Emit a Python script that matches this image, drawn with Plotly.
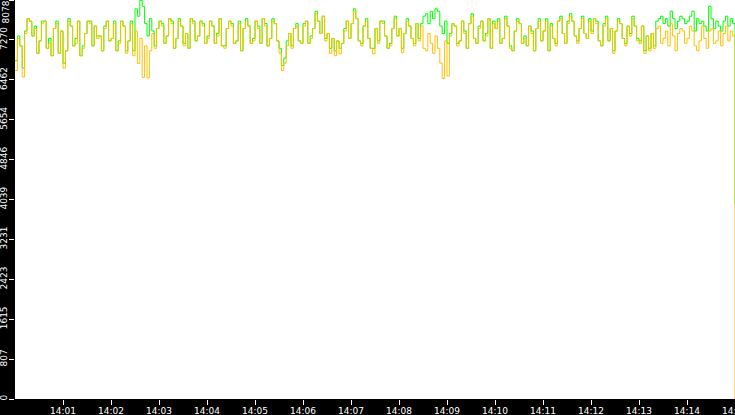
import plotly.graph_objects as go
import pandas as pd

# samples every 3 seconds from 14:00:00 to 14:15:00
times = pd.date_range("2024-01-01 14:00:00", "2024-01-01 14:15:00", freq="3s")

# yellow series, one row per minute
yellow = [
    6650, 7300, 7150, 6520, 7400, 7700, 7650, 7350, 7500, 7000, 7250, 7600, 7650, 7100, 7200, 6950, 7500, 7600, 7000, 7450,
    6700, 7050, 7650, 7550, 7150, 7200, 7650, 6950, 7100, 7400, 7650, 7600, 7150, 7550, 7300, 7350, 7050, 7500, 7650, 7250,
    7300, 7600, 7050, 7200, 7650, 7550, 7000, 7250, 7600, 6950, 7450, 6790, 7300, 6510, 7150, 6500, 7050, 7400, 7100, 7500,
    7650, 7550, 7200, 7350, 7700, 7600, 7100, 7300, 7650, 7550, 7150, 7400, 7100, 7700, 7600, 7250, 7350, 7650, 7550, 7200,
    7300, 7650, 7550, 7200, 7350, 7700, 7150, 7100, 7500, 7650, 7550, 7200, 7250, 7600, 7050, 7500, 7650, 7550, 7200, 7250,
    7650, 7500, 7200, 7700, 7550, 7150, 7300, 7650, 7600, 7250, 7000, 6650, 6800, 7150, 7400, 7100, 7500, 7550, 7250, 7200,
    7550, 7650, 7200, 7300, 7500, 7800, 7650, 7400, 7750, 7250, 7400, 7000, 7300, 6950, 7250, 6990, 7200, 7450, 7650, 7300,
    7600, 7850, 7700, 7250, 7150, 7550, 7650, 7300, 7100, 6990, 7500, 7200, 7650, 7600, 7350, 7100, 7150, 7500, 7700, 7350,
    7500, 7010, 7400, 7650, 7550, 7300, 7150, 7600, 7250, 7550, 7100, 7050, 7400, 7200, 7000, 7350, 7100, 6800, 6490, 7250,
    6540, 7350, 7600, 7550, 7150, 7250, 7650, 7400, 7100, 7600, 7750, 7300, 7200, 7500, 7650, 7250, 7350, 7700, 7100, 7600,
    7500, 7650, 7200, 7300, 7700, 7550, 7100, 7050, 7450, 7650, 7600, 7200, 7300, 7150, 7550, 7400, 7050, 7500, 7650, 7250,
    7450, 7650, 7050, 7550, 7300, 7150, 7650, 7700, 7400, 7200, 7600, 7750, 7650, 7350, 7200, 7500, 7700, 7400, 7300, 7650,
    7400, 7700, 7600, 7250, 7150, 7550, 7700, 7250, 7500, 7000, 7450, 7650, 7600, 7300, 7150, 7550, 7350, 7700, 7550, 7250,
    7200, 7550, 7000, 7350, 7050, 7400, 7100, 7500, 7550, 7200, 7300, 7450, 7150, 7600, 7350, 7050, 7400, 7500, 7450, 7200,
    7300, 7550, 7450, 7150, 7050, 7250, 7550, 7300, 7100, 7450, 7500, 7200, 7250, 7450, 7150, 7400, 7550, 7250, 7450, 7350,
    0,
]

# green series
green = [
    6850, 7350, 7150, 6700, 7450, 7700, 7650, 7350, 7550, 7000, 7250, 7650, 7650, 7100, 7300, 6950, 7500, 7650, 7000, 7450,
    6800, 7050, 7700, 7550, 7150, 7300, 7650, 6950, 7150, 7400, 7650, 7650, 7150, 7550, 7350, 7350, 7050, 7550, 7650, 7250,
    7300, 7650, 7050, 7250, 7650, 7550, 7050, 7250, 7650, 7050, 7900, 7750, 8070, 7950, 7600, 7350, 7700, 7450, 7150, 7500,
    7650, 7600, 7200, 7350, 7700, 7650, 7100, 7300, 7700, 7550, 7200, 7400, 7100, 7700, 7650, 7250, 7350, 7650, 7600, 7200,
    7350, 7650, 7550, 7200, 7400, 7700, 7150, 7150, 7500, 7650, 7600, 7200, 7250, 7650, 7050, 7500, 7700, 7550, 7200, 7300,
    7650, 7550, 7200, 7700, 7600, 7150, 7300, 7700, 7600, 7250, 7100, 6750, 6900, 7250, 7400, 7150, 7500, 7600, 7250, 7200,
    7600, 7650, 7200, 7350, 7500, 7850, 7650, 7400, 7750, 7300, 7400, 7100, 7300, 7050, 7250, 7100, 7200, 7500, 7650, 7300,
    7600, 7900, 7700, 7250, 7200, 7550, 7700, 7300, 7100, 7100, 7500, 7250, 7650, 7650, 7350, 7100, 7200, 7500, 7750, 7350,
    7500, 7100, 7400, 7700, 7550, 7300, 7200, 7600, 7300, 7600, 7750, 7800, 7600, 7850, 7700, 7900, 7850, 7550, 7400, 7650,
    7200, 7400, 7600, 7550, 7200, 7250, 7650, 7450, 7100, 7600, 7800, 7300, 7200, 7550, 7650, 7250, 7400, 7700, 7100, 7650,
    7500, 7700, 7200, 7300, 7750, 7550, 7150, 7050, 7450, 7700, 7600, 7200, 7350, 7150, 7550, 7450, 7050, 7500, 7700, 7250,
    7450, 7700, 7050, 7600, 7300, 7200, 7650, 7750, 7400, 7200, 7650, 7800, 7650, 7350, 7250, 7500, 7750, 7400, 7300, 7700,
    7450, 7700, 7650, 7250, 7150, 7600, 7750, 7250, 7500, 7050, 7450, 7700, 7600, 7300, 7200, 7550, 7400, 7750, 7550, 7300,
    7250, 7550, 7050, 7350, 7100, 7400, 7150, 7650, 7700, 7750, 7600, 7700, 7550, 7850, 7700, 7500, 7650, 7750, 7700, 7600,
    7650, 7750, 7850, 7450, 7700, 7600, 7650, 7550, 7450, 7950, 7700, 7500, 7650, 7550, 7450, 7650, 7750, 7550, 7700, 7600,
    3950,
]

y_ticks = [0, 807, 1615, 2423, 3231, 4039, 4846, 5654, 6462, 7270, 8078]
y_labels = ["0", "807", "1615", "2423", "3231", "4039", "4846", "5654", "6462", "7270", ""]
x_ticks = pd.date_range("2024-01-01 14:01:00", "2024-01-01 14:15:00", freq="1min")

fig = go.Figure()
fig.add_trace(go.Scatter(x=times, y=green, mode="lines",
                         line=dict(color="#00ff00", width=1, shape="hv")))
fig.add_trace(go.Scatter(x=times, y=yellow, mode="lines",
                         line=dict(color="#ffc000", width=1, shape="hv")))

tick_font = dict(family="DejaVu Sans", size=9, color="white")
fig.update_layout(
    width=735, height=415,
    margin=dict(l=15, r=0, t=0, b=16),
    paper_bgcolor="black", plot_bgcolor="white",
    showlegend=False,
    xaxis=dict(type="date", range=["2024-01-01 14:00:00", "2024-01-01 14:15:00"],
               tickvals=x_ticks, tickformat="%H:%M", ticks="outside", ticklen=5,
               tickcolor="white", tickfont=tick_font, showgrid=False, zeroline=False,
               ticklabeloverflow="allow", automargin=False, ticklabelstandoff=-2),
    yaxis=dict(range=[0, 8078], tickvals=y_ticks, ticktext=y_labels, tickangle=-90,
               ticks="outside", ticklen=5, tickcolor="white", tickfont=tick_font,
               showgrid=False, zeroline=False, automargin=False, ticklabelstandoff=-2),
)

# top label sits below the axis end, inside the window
fig.add_annotation(text="8078", xref="paper", yref="paper", x=0, y=1,
                   xanchor="right", yanchor="top", xshift=-4, textangle=-90,
                   showarrow=False, font=tick_font, borderpad=0)

fig.write_html("out.html", config={"displayModeBar": False},
               post_script="document.body.style.margin='0';")
